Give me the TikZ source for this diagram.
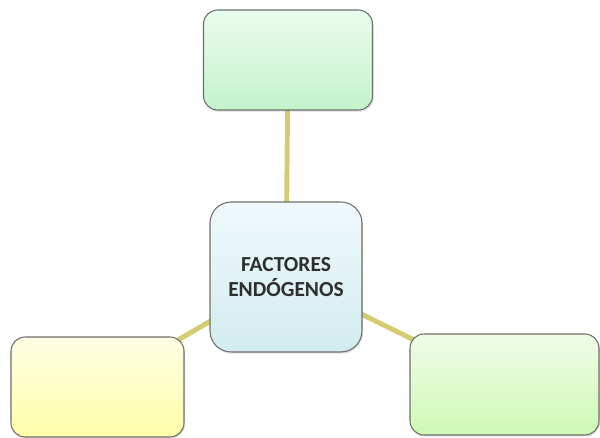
\documentclass[tikz,border=0pt]{standalone}
\usepackage{fontspec}
\setmainfont{Carlito}
\usetikzlibrary{shadows}
\definecolor{linkcol}{HTML}{D4CC70}
\definecolor{boxedge}{HTML}{6E6E6E}
\definecolor{topA}{HTML}{EAFCEE}
\definecolor{topB}{HTML}{C4F3CA}
\definecolor{midA}{HTML}{F0F9FB}
\definecolor{midB}{HTML}{D2ECF0}
\definecolor{leftA}{HTML}{FFFFE6}
\definecolor{leftB}{HTML}{FFFFA8}
\definecolor{rightA}{HTML}{F0FCE8}
\definecolor{rightB}{HTML}{CEF9B4}
\tikzset{
  box/.style={draw=boxedge,line width=0.6pt,rounded corners=8pt,
    drop shadow={opacity=0.25,shadow xshift=0.6pt,shadow yshift=-1pt}},
  link/.style={draw=linkcol,line width=2.8pt}
}

\begin{document}
\begin{tikzpicture}[x=0.02cm,y=-0.02cm]
  \useasboundingbox (0,0) rectangle (600,438);
  \coordinate (c) at (286,277);
  \coordinate (t) at (288,60);
  \coordinate (l) at (97.5,387);
  \coordinate (r) at (504.5,384.5);
  \draw[link] (c) -- (t);
  \draw[link] (c) -- (l);
  \draw[link] (c) -- (r);
  \node[box,top color=topA,bottom color=topB,
        minimum width=3.38cm,minimum height=2cm] (top) at (t) {};
  \node[box,rounded corners=12pt,top color=midA,bottom color=midB,
        minimum width=3.04cm,minimum height=3cm,align=center,
        font=\bfseries\fontsize{12.2}{14.4}\selectfont,text=black!82] (mid) at (c)
        {FACTORES\\ENDÓGENOS};
  \node[box,top color=leftA,bottom color=leftB,
        minimum width=3.46cm,minimum height=2cm] (left) at (l) {};
  \node[box,top color=rightA,bottom color=rightB,
        minimum width=3.78cm,minimum height=2.02cm] (right) at (r) {};
\end{tikzpicture}
\end{document}
